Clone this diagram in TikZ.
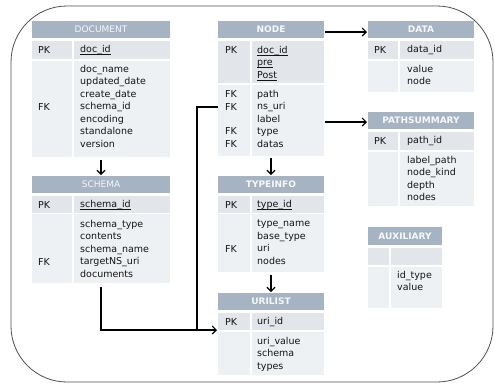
\documentclass[tikz,border=0pt]{standalone}
\usepackage{fontspec}
\setmainfont{DejaVu Sans}
\usetikzlibrary{arrows.meta}

\definecolor{hdr}{HTML}{A6B3C3}
\definecolor{keyrow}{HTML}{E2E6EB}
\definecolor{bodyrow}{HTML}{EEF1F4}
\definecolor{hdrtxt}{HTML}{F6F8FA}
\definecolor{ink}{HTML}{141414}
\definecolor{frame}{HTML}{505050}

\tikzset{
  cell/.style={draw=none, inner sep=0pt, outer sep=0pt},
  title/.style={font=\fontsize{9}{11}\selectfont\bfseries, text=hdrtxt, inner sep=0pt},
  lighttitle/.style={font=\fontsize{9}{11}\selectfont, text=hdrtxt, inner sep=0pt},
  lbl/.style={font=\fontsize{9.5}{12.5}\selectfont, text=ink, inner sep=0pt, anchor=west},
  fields/.style={font=\fontsize{9.5}{12.5}\selectfont, text=ink, inner sep=0pt,
    anchor=north west, align=left},
  arr/.style={draw=black, line width=1.1pt, shorten >=1pt,
    -{Straight Barb[length=4pt,width=8pt]}},
  link/.style={draw=black, line width=1.1pt},
}

% key column entry, underlined just below the baseline
\newcommand\ulkey[1]{\underline{\smash{#1}}\vphantom{#1}}

% one filled table cell: name, x0, y0, x1, y1, colour
\newcommand\erbox[6]{%
  \node[cell, fill=#6, minimum width={(#4)-(#2)}, minimum height={(#5)-(#3)}]
    (#1) at ({((#2)+(#4))/2},{((#3)+(#5))/2}) {};}

\begin{document}
\begin{tikzpicture}[x=1pt, y=-1pt]
\useasboundingbox (0,0) rectangle (495,384);

% outer rounded frame
\draw[frame, line width=0.8pt, rounded corners=56pt] (11,6) rectangle (493,382);

% ---------------- DOCUMENT
\erbox{docH}{32}{21}{170}{38}{hdr}
\erbox{docPL}{32}{41}{72}{59}{keyrow}
\erbox{docPR}{74}{41}{170}{59}{keyrow}
\erbox{docBL}{32}{60.5}{72}{157}{bodyrow}
\erbox{docB}{74}{60.5}{170}{157}{bodyrow}
\node[lighttitle] (docT) at (docH) {DOCUMENT};
\node[lbl] (docPK) at (38,50) {PK};
\node[lbl] (docKey) at (80,50) {\ulkey{doc\_id}};
\node[fields] (docF) at (80,65) {doc\_name\\updated\_date\\create\_date\\schema\_id\\encoding\\standalone\\version};
\node[lbl] (docFK) at (38,107) {FK};

% ---------------- SCHEMA
\erbox{schH}{32}{176}{170}{193}{hdr}
\erbox{schPL}{32}{196}{72}{212.5}{keyrow}
\erbox{schPR}{74}{196}{170}{212.5}{keyrow}
\erbox{schBL}{32}{214}{72}{283}{bodyrow}
\erbox{schB}{74}{214}{170}{283}{bodyrow}
\node[lighttitle] (schT) at (schH) {SCHEMA};
\node[lbl] (schPK) at (38,205) {PK};
\node[lbl] (schKey) at (80,205) {\ulkey{schema\_id}};
\node[fields] (schF) at (80,220) {schema\_type\\contents\\schema\_name\\targetNS\_uri\\documents};
\node[lbl] (schFK) at (38,262) {FK};

% ---------------- NODE
\erbox{nodH}{218}{21}{324}{38}{hdr}
\erbox{nodPL}{218}{41}{250}{83}{keyrow}
\erbox{nodPR}{252}{41}{324}{83}{keyrow}
\erbox{nodBL}{218}{84.5}{250}{156}{bodyrow}
\erbox{nodB}{252}{84.5}{324}{156}{bodyrow}
\node[title] (nodT) at (nodH) {NODE};
\node[lbl] (nodPK) at (225,50) {PK};
\node[fields] (nodKey) at (257,46) {\ulkey{doc\_id}\\\ulkey{pre}\\\ulkey{Post}};
\node[fields] (nodF) at (257,90) {path\\ns\_uri\\label\\type\\datas};
\node[lbl] (nodFKa) at (225,94) {FK};
\node[lbl] (nodFKb) at (225,107) {FK};
\node[lbl] (nodFKc) at (225,131) {FK};
\node[lbl] (nodFKd) at (225,144) {FK};

% ---------------- DATA
\erbox{datH}{368}{21}{474}{38}{hdr}
\erbox{datPL}{368}{41}{398}{59}{keyrow}
\erbox{datPR}{400}{41}{474}{59}{keyrow}
\erbox{datBL}{368}{60.5}{398}{92}{bodyrow}
\erbox{datB}{400}{60.5}{474}{92}{bodyrow}
\node[title] (datT) at (datH) {DATA};
\node[lbl] (datPK) at (374,50) {PK};
\node[lbl] (datKey) at (407,50) {data\_id};
\node[fields] (datF) at (407,65) {value\\node};

% ---------------- PATHSUMMARY
\erbox{psH}{368}{112}{474}{129}{hdr}
\erbox{psPL}{368}{132}{398}{150}{keyrow}
\erbox{psPR}{400}{132}{474}{150}{keyrow}
\erbox{psBL}{368}{151.5}{398}{206}{bodyrow}
\erbox{psB}{400}{151.5}{474}{206}{bodyrow}
\node[title] (psT) at (psH) {PATHSUMMARY};
\node[lbl] (psPK) at (374,141) {PK};
\node[lbl] (psKey) at (407,141) {path\_id};
\node[fields] (psF) at (407,156) {label\_path\\node\_kind\\depth\\nodes};

% ---------------- TYPEINFO
\erbox{tyH}{218}{176}{324}{193}{hdr}
\erbox{tyPL}{218}{196}{250}{212.5}{keyrow}
\erbox{tyPR}{252}{196}{324}{212.5}{keyrow}
\erbox{tyBL}{218}{214}{250}{272}{bodyrow}
\erbox{tyB}{252}{214}{324}{272}{bodyrow}
\node[title] (tyT) at (tyH) {TYPEINFO};
\node[lbl] (tyPK) at (225,205) {PK};
\node[lbl] (tyKey) at (257,205) {\ulkey{type\_id}};
\node[fields] (tyF) at (257,220) {type\_name\\base\_type\\uri\\nodes};
\node[lbl] (tyFK) at (225,249) {FK};

% ---------------- URILIST
\erbox{urH}{218}{293}{324}{310}{hdr}
\erbox{urPL}{218}{313}{250}{330}{keyrow}
\erbox{urPR}{252}{313}{324}{330}{keyrow}
\erbox{urBL}{218}{331.5}{250}{375}{bodyrow}
\erbox{urB}{252}{331.5}{324}{375}{bodyrow}
\node[title] (urT) at (urH) {URILIST};
\node[lbl] (urPK) at (225,322) {PK};
\node[lbl] (urKey) at (257,322) {uri\_id};
\node[fields] (urF) at (257,337) {uri\_value\\schema\\types};

% ---------------- AUXILIARY
\erbox{auH}{368}{227}{442}{245}{hdr}
\erbox{auPL}{368}{248}{389}{265}{keyrow}
\erbox{auPR}{391}{248}{442}{265}{keyrow}
\erbox{auBL}{368}{266.5}{389}{308}{bodyrow}
\erbox{auB}{391}{266.5}{442}{308}{bodyrow}
\node[title] (auT) at (auH) {AUXILIARY};
\node[fields] (auF) at (397,271) {id\_type\\value};

% ---------------- connectors
\coordinate (bend) at (197,330);
\draw[arr, shorten <=3pt] (docB.south -| docH) -- (schH.north);
\draw[arr, shorten <=1pt] (nodH.east |- 0,32) -- (datH.west |- 0,32);
\draw[arr, shorten <=1pt] (nodB.east |- 0,122) -- (psH.west |- 0,122);
\draw[arr, shorten <=2pt] (nodB.south -| nodH) -- (tyH.north);
\draw[arr, shorten <=3pt] (tyB.south -| tyH) -- (urH.north);
\draw[arr, shorten <=4pt] (schB.south -| schH) |- (urPL.south west);
\draw[link] (nodBL.west |- nodFKb) -| (bend);
\end{tikzpicture}
\end{document}
